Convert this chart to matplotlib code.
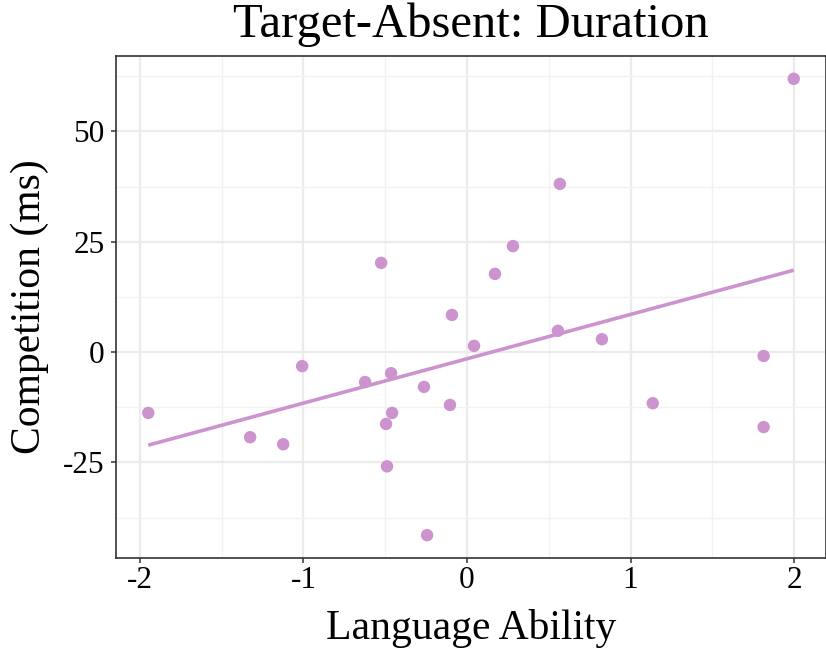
import numpy as np
import matplotlib
matplotlib.use("Agg")
import matplotlib.pyplot as plt
from matplotlib.ticker import MultipleLocator

plt.rcParams['font.family'] = ['Liberation Serif', 'DejaVu Serif']

language_ability = [-1.949, -1.326, -1.124, -1.008, -0.623, -0.525, -0.495, -0.489,
                    -0.464, -0.458, -0.263, -0.244, -0.104, -0.092, 0.043, 0.171,
                    0.281, 0.556, 0.568, 0.825, 1.136, 1.814, 1.814, 1.998]
competition = [-13.8, -19.3, -20.9, -3.2, -6.8, 20.2, -16.3, -25.9,
               -4.8, -13.8, -7.9, -41.5, -12.0, 8.4, 1.4, 17.7,
               24.0, 4.8, 38.1, 2.9, -11.6, -0.9, -17.0, 61.9]
x_ticks = [-2, -1, 0, 1, 2]
y_ticks = [-25, 0, 25, 50]
title = "Target-Absent: Duration"
xlabel = "Language Ability"
ylabel = "Competition (ms)"

color = '#CC93CF'
x = np.array(language_ability)
y = np.array(competition)

fig = plt.figure(figsize=(8.26, 6.61), dpi=100)
ax = fig.add_axes([116/826, 1-558/661, (826-116)/826, (558-56)/661])

xr = x.max() - x.min()
yr = y.max() - y.min()
ax.set_xlim(x.min() - 0.05*xr, x.max() + 0.05*xr)
ax.set_ylim(y.min() - 0.05*yr, y.max() + 0.05*yr)

ax.xaxis.set_minor_locator(MultipleLocator(0.5))
ax.yaxis.set_minor_locator(MultipleLocator(12.5))
ax.set_xticks(x_ticks)
ax.set_yticks(y_ticks)
ax.set_yticklabels([str(v) for v in y_ticks])
ax.set_xticklabels([str(v) for v in x_ticks])

ax.grid(which='major', color='#EBEBEB', linewidth=1.6, zorder=0)
ax.grid(which='minor', color='#F2F2F2', linewidth=1.0, zorder=0)
ax.set_axisbelow(True)

coef = np.polyfit(x, y, 1)
xl = np.array([x.min(), x.max()])
ax.plot(xl, np.polyval(coef, xl), color=color, linewidth=2.6, zorder=2, solid_capstyle='butt')
ax.scatter(x, y, s=80, color=color, edgecolors='none', zorder=3)

for s in ax.spines.values():
    s.set_color('#333333')
    s.set_linewidth(1.2)

ax.tick_params(which='major', length=3.6, width=1.1, color='#333333',
               labelsize=22.5, labelcolor='black')
ax.tick_params(axis='x', which='major', pad=2.5)
ax.tick_params(axis='y', which='major', pad=4.5)
ax.tick_params(which='minor', length=0)

ax.set_title(title, fontsize=35, pad=14)
ax.set_xlabel(xlabel, fontsize=30, labelpad=10)
ax.set_ylabel(ylabel, fontsize=30, labelpad=10)

fig.savefig('out.png', dpi=100)
